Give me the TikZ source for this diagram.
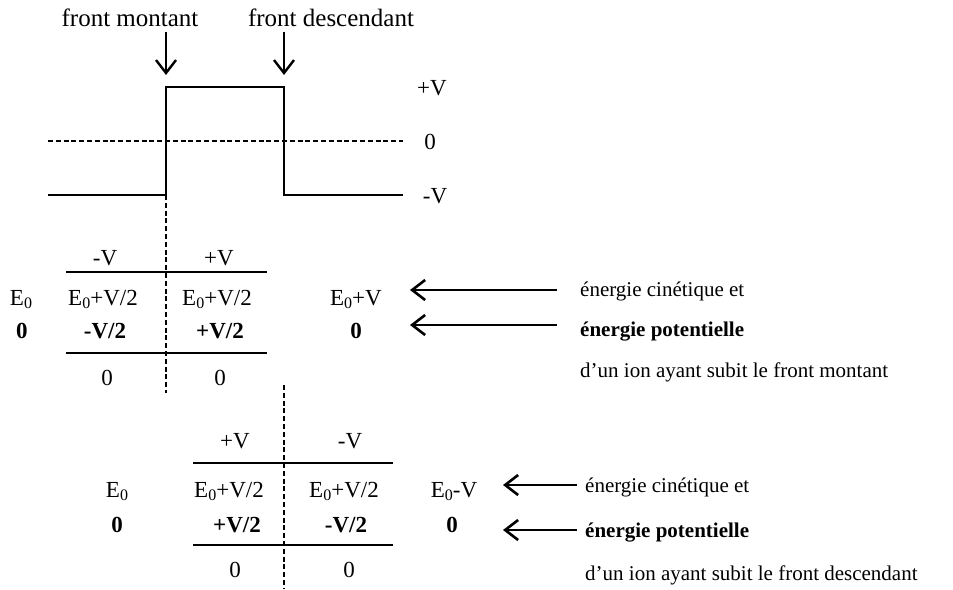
\documentclass[tikz,border=0pt]{standalone}
\usepackage{fontspec}
\setmainfont{Liberation Serif}
\usetikzlibrary{arrows.meta, positioning}
\newcommand\Ezero{E\raisebox{-3.5pt}{\fontsize{16}{16}\selectfont 0}}

\begin{document}
\begin{tikzpicture}[
    x=1pt, y=-1pt,
    >={Straight Barb[length=13pt, width=20pt]},
    every node/.style={inner sep=0pt, anchor=base},
    title/.style={font=\fontsize{25}{30}\selectfont},
    cell/.style={font=\fontsize{23}{28}\selectfont},
    bcell/.style={font=\fontsize{23}{28}\selectfont\bfseries},
    note/.style={font=\fontsize{21}{25}\selectfont, anchor=base west},
    rule/.style={line width=1.6pt},
    cut/.style={line width=2.2pt, dash pattern=on 5pt off 2.8pt},
    pointer/.style={->, line width=2.6pt}
]
    \useasboundingbox (0,0) rectangle (953,589);

    % signal
    \coordinate (p1) at (48,195);
    \coordinate (p2) at (166,195);
    \coordinate (p3) at (166,87);
    \coordinate (p4) at (284,87);
    \coordinate (p5) at (284,195);
    \coordinate (p6) at (403,195);
    \coordinate (z1) at (48,141);
    \coordinate (z2) at (403,141);
    \draw[rule] (p1) -- (p2) -- (p3) -- (p4) -- (p5) -- (p6);
    \draw[rule, line width=1.8pt, dash pattern=on 5pt off 2.8pt] (z1) -- (z2);

    \node[cell] (vp) at (432,95) {+V};
    \node[cell] (vz) at (430,149) {0};
    \node[cell] (vm) at (435,203) {-V};

    \node[title] (fm) at (130,27) {front montant};
    \node[title] (fd) at (331,27) {front descendant};
    \coordinate (a1) at (166,32);
    \coordinate (b1) at (166,75);
    \coordinate (a2) at (284,32);
    \coordinate (b2) at (284,75);
    \draw[pointer, line width=2.4pt] (a1) -- (b1);
    \draw[pointer, line width=2.4pt] (a2) -- (b2);

    % front montant
    \coordinate (c1) at (166,393);
    \draw[cut] (p2) -- (c1);
    \coordinate (l1) at (66,272);
    \coordinate (r1) at (267,272);
    \coordinate (l2) at (66,353);
    \coordinate (r2) at (267,353);
    \draw[rule] (l1) -- (r1);
    \draw[rule] (l2) -- (r2);

    \node[cell] (ha1) at (105,265) {-V};
    \node[cell] (hb1) at (219,265) {+V};
    \node[cell] (e1) at (21,305) {\Ezero};
    \node[cell] (ea1) at (103,305) {\Ezero+V/2};
    \node[cell] (eb1) at (217,305) {\Ezero+V/2};
    \node[cell] (ef1) at (356,305) {\Ezero+V};
    \node[bcell] (u1) at (22,338) {0};
    \node[bcell] (ua1) at (105,338) {-V/2};
    \node[bcell] (ub1) at (220,338) {+V/2};
    \node[bcell] (uf1) at (356,338) {0};
    \node[cell] (oa1) at (107,385) {0};
    \node[cell] (ob1) at (220,385) {0};

    \node[note] (k1) at (580,296) {énergie cinétique et};
    \node[note, font=\fontsize{21}{25}\selectfont\bfseries] (q1) at (580,336) {énergie potentielle};
    \node[note] (s1) at (580,377) {d’un ion ayant subit le front montant};
    \coordinate (t1) at (557,290);
    \coordinate (h1) at (410,290);
    \coordinate (t2) at (557,325);
    \coordinate (h2) at (410,325);
    \draw[pointer] (t1) -- (h1);
    \draw[pointer] (t2) -- (h2);

    % front descendant
    \coordinate (c2) at (284,385);
    \coordinate (d2) at (284,589);
    \draw[cut] (c2) -- (d2);
    \coordinate (l3) at (193,463);
    \coordinate (r3) at (393,463);
    \coordinate (l4) at (193,545);
    \coordinate (r4) at (393,545);
    \draw[rule] (l3) -- (r3);
    \draw[rule] (l4) -- (r4);

    \node[cell] (ha2) at (235,448) {+V};
    \node[cell] (hb2) at (350,448) {-V};
    \node[cell] (e2) at (117,497) {\Ezero};
    \node[cell] (ea2) at (229,497) {\Ezero+V/2};
    \node[cell] (eb2) at (344,497) {\Ezero+V/2};
    \node[cell] (ef2) at (454,497) {\Ezero-V};
    \node[bcell] (u2) at (117,532) {0};
    \node[bcell] (ua2) at (237,532) {+V/2};
    \node[bcell] (ub2) at (346,532) {-V/2};
    \node[bcell] (uf2) at (452,532) {0};
    \node[cell] (oa2) at (235,577) {0};
    \node[cell] (ob2) at (349,577) {0};

    \node[note] (k2) at (585,492) {énergie cinétique et};
    \node[note, font=\fontsize{21}{25}\selectfont\bfseries] (q2) at (585,537) {énergie potentielle};
    \node[note] (s2) at (585,580) {d’un ion ayant subit le front descendant};
    \coordinate (t3) at (577,485);
    \coordinate (h3) at (503,485);
    \coordinate (t4) at (577,530);
    \coordinate (h4) at (503,530);
    \draw[pointer] (t3) -- (h3);
    \draw[pointer] (t4) -- (h4);
\end{tikzpicture}
\end{document}
